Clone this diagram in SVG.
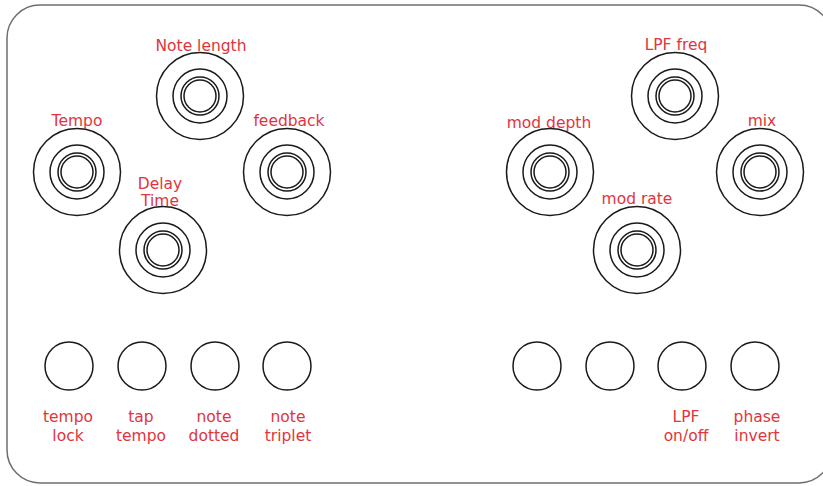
<svg xmlns="http://www.w3.org/2000/svg" width="823" height="486" viewBox="0 0 823 486">
<style>
.panel{fill:#fff;stroke:#6e6e6e;stroke-width:1.5}
.k{fill:none;stroke:#1a1a1a;stroke-width:1.5}
.lbl{font-family:"DejaVu Sans","Liberation Sans",sans-serif;font-size:15.5px;fill:#e0353d;text-anchor:middle}
</style>
<defs>
<g id="knob">
<circle class="k" r="43.5"/>
<circle class="k" r="27"/>
<circle class="k" r="19"/>
<circle class="k" r="16"/>
</g>
<circle id="btn" class="k" r="24"/>
</defs>
<rect class="panel" x="7" y="5" width="825" height="478" rx="33"/>
<g id="knob-note-length"><use href="#knob" x="200" y="96"/><text class="lbl" x="201" y="51">Note length</text></g>
<g id="knob-tempo"><use href="#knob" x="77" y="172"/><text class="lbl" x="77" y="126">Tempo</text></g>
<g id="knob-feedback"><use href="#knob" x="287" y="172"/><text class="lbl" x="289" y="126">feedback</text></g>
<g id="knob-delay-time"><use href="#knob" x="163" y="250"/><text class="lbl" x="160" y="189">Delay</text><text class="lbl" x="160" y="206">Time</text></g>
<g id="knob-lpf-freq"><use href="#knob" x="675" y="96"/><text class="lbl" x="676" y="50">LPF freq</text></g>
<g id="knob-mod-depth"><use href="#knob" x="550" y="172"/><text class="lbl" x="549" y="128">mod depth</text></g>
<g id="knob-mix"><use href="#knob" x="760" y="172"/><text class="lbl" x="762" y="126">mix</text></g>
<g id="knob-mod-rate"><use href="#knob" x="637" y="250"/><text class="lbl" x="637" y="204">mod rate</text></g>
<g id="btn-tempo-lock"><use href="#btn" x="69" y="366"/><text class="lbl" x="68" y="422">tempo</text><text class="lbl" x="68" y="441">lock</text></g>
<g id="btn-tap-tempo"><use href="#btn" x="142" y="366"/><text class="lbl" x="141" y="422">tap</text><text class="lbl" x="141" y="441">tempo</text></g>
<g id="btn-note-dotted"><use href="#btn" x="215" y="366"/><text class="lbl" x="214" y="422">note</text><text class="lbl" x="214" y="441">dotted</text></g>
<g id="btn-note-triplet"><use href="#btn" x="287" y="366"/><text class="lbl" x="288" y="422">note</text><text class="lbl" x="288" y="441">triplet</text></g>
<g id="btn-5"><use href="#btn" x="537" y="366"/></g>
<g id="btn-6"><use href="#btn" x="610" y="366"/></g>
<g id="btn-lpf-onoff"><use href="#btn" x="682" y="366"/><text class="lbl" x="686" y="422">LPF</text><text class="lbl" x="686" y="441">on/off</text></g>
<g id="btn-phase-invert"><use href="#btn" x="755" y="366"/><text class="lbl" x="757" y="422">phase</text><text class="lbl" x="757" y="441">invert</text></g>
<g id="connectors"/>
</svg>
